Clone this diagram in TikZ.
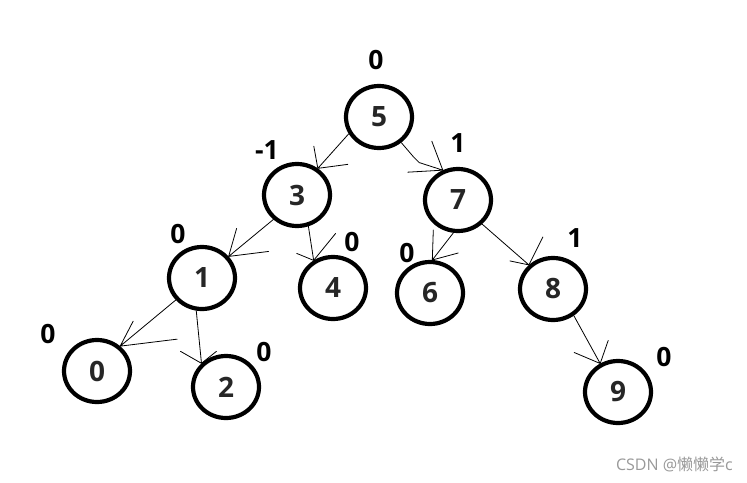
\documentclass[tikz,border=0pt]{standalone}
\usepackage{fontspec}
\setmainfont{Open Sans}
\newfontfamily\cjkfont{Noto Sans CJK SC}
\usetikzlibrary{shapes.geometric}
\definecolor{ink}{HTML}{262626}
\definecolor{mark}{HTML}{999999}
\begin{document}
\begin{tikzpicture}[x=1pt,y=-1pt,
  treenode/.style={ellipse,draw=black,line width=4.2pt,minimum width=66pt,minimum height=62pt,inner sep=0pt,
    font=\fontsize{28}{28}\selectfont\bfseries,text=ink},
  bal/.style={font=\fontsize{26.5}{26.5}\selectfont\bfseries,text=black,inner sep=0pt},
  link/.style={draw=black,line width=0.8pt,line cap=round,line join=round}]
\fill[white] (0,0) rectangle (747,482);
\useasboundingbox (0,0) rectangle (747,482);
% tree nodes
\node[treenode] (n5) at (379,117) {5};
\node[treenode] (n3) at (297,195) {3};
\node[treenode] (n7) at (458,200) {7};
\node[treenode] (n1) at (202,278) {1};
\node[treenode] (n4) at (333,288) {4};
\node[treenode] (n6) at (430,293) {6};
\node[treenode] (n8) at (553,289) {8};
\node[treenode] (n0) at (97,371) {0};
\node[treenode] (n2) at (226,387) {2};
\node[treenode] (n9) at (618,392) {9};
% balance factors
\node[bal] (b5) at (376,60) {0};
\node[bal] (b3) at (267,150) {-1};
\node[bal] (b7) at (458,143) {1};
\node[bal] (b1) at (178,234) {0};
\node[bal] (b4) at (352,242) {0};
\node[bal] (b6) at (407,253) {0};
\node[bal] (b8) at (575,238) {1};
\node[bal] (b0) at (48,334) {0};
\node[bal] (b2) at (264,352) {0};
\node[bal] (b9) at (664,357) {0};
% hand-drawn arrows
\draw[link] (n5.209) -- (n3.52) -- ++(-4,-22) (n3.52) -- ++(30,-4);
\draw[link] (n5.311) -- ++(12,14) -- ++(6,6) -- (n7.117) -- ++(-11,-29) (n7.117) -- ++(-35,2);
\draw[link] (n3.226) -- (n1.39) -- ++(8,-28) (n1.39) -- ++(40,-5);
\draw[link] (n3.290) -- (n4.125) -- ++(-17,-7) (n4.125) -- ++(22,-27);
\draw[link] (n7.262) -- (n6.86) -- ++(1,-30) (n6.86) -- ++(26,-7);
\draw[link] (n7.315) -- (n8.135) -- ++(14,-28) (n8.135) -- ++(-19,-4);
\draw[link] (n8.308) -- (n9.122) -- ++(8,-23) (n9.122) -- ++(-26,-11);
\draw[link] (n1.220) -- (n0.47) -- ++(13,-25) (n0.47) -- ++(57,-7);
\draw[link] (n1.260) -- (n2.136) -- ++(-21,-12) (n2.136) -- ++(15,-12);
% watermark
\node[anchor=east,text=mark,font=\fontsize{16}{16}\selectfont,inner sep=0pt] (wm) at (733,464) {CSDN @{\cjkfont 懒懒学}c};
\end{tikzpicture}
\end{document}
